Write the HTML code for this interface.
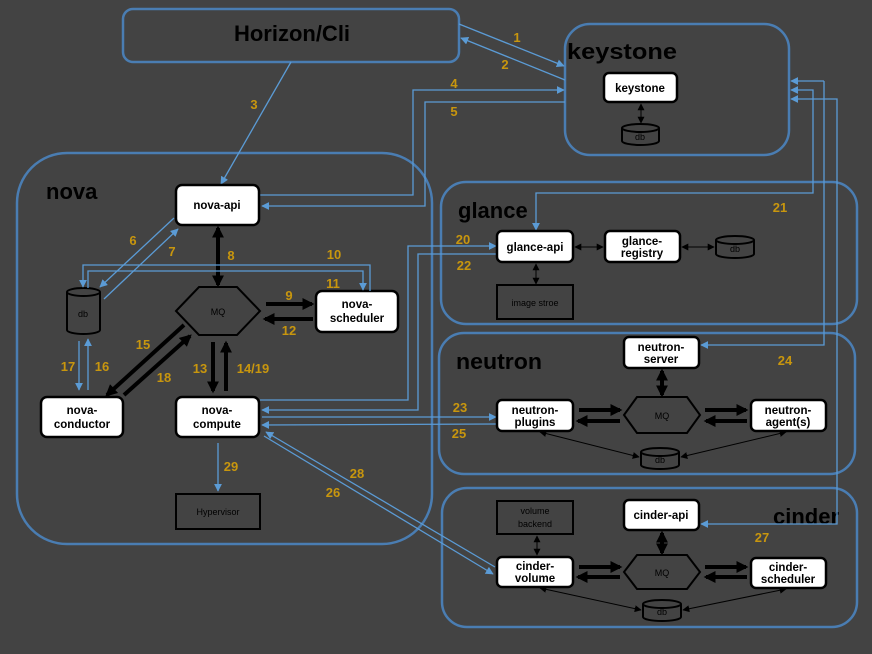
<!DOCTYPE html>
<html><head><meta charset="utf-8"><style>
html,body{margin:0;padding:0;background:#434343;}
svg{display:block;}
text{font-family:"Liberation Sans","DejaVu Sans",sans-serif;}
.t{font-size:11.5px;font-weight:bold;fill:#000;text-anchor:middle;}
.s{font-size:9px;fill:#000;text-anchor:middle;}
.n{font-size:13px;font-weight:bold;fill:#c8960e;text-anchor:middle;}
.h{font-size:22px;font-weight:bold;fill:#000;}
.c{fill:none;stroke:#4a7db2;stroke-width:2.5;}
.b{fill:none;stroke:#5b9bd5;stroke-width:1.3;}
.w{fill:#fff;stroke:#000;stroke-width:2.5;}
.k{fill:none;stroke:#000;stroke-width:1;}
.K{fill:none;stroke:#000;stroke-width:4;}
.dk{fill:#434343;stroke:#000;stroke-width:2;}
</style></head><body>
<svg width="872" height="654" viewBox="0 0 872 654" xmlns="http://www.w3.org/2000/svg">
<defs>
<marker id="ab" viewBox="0 0 10 10" refX="9" refY="5" markerWidth="8" markerHeight="8" orient="auto-start-reverse" markerUnits="userSpaceOnUse"><path d="M0,0L10,5L0,10z" fill="#5b9bd5"/></marker>
<marker id="ak" viewBox="0 0 10 10" refX="9" refY="5" markerWidth="7" markerHeight="7" orient="auto-start-reverse" markerUnits="userSpaceOnUse"><path d="M0,0L10,5L0,10z" fill="#000"/></marker>
<marker id="aK" viewBox="0 0 10 10" refX="8" refY="5" markerWidth="12" markerHeight="12" orient="auto-start-reverse" markerUnits="userSpaceOnUse"><path d="M0,0L10,5L0,10z" fill="#000"/></marker>
</defs>

<rect class="c" x="123" y="9" width="336" height="53" rx="10"/>
<text class="h" x="292" y="41" text-anchor="middle">Horizon/Cli</text>
<rect class="c" x="565" y="24" width="224" height="131" rx="25"/>
<text class="h" x="567" y="59" textLength="110" lengthAdjust="spacingAndGlyphs">keystone</text>
<rect class="c" x="17" y="153" width="415" height="391" rx="50"/>
<text class="h" x="46" y="199">nova</text>
<rect class="c" x="441" y="182" width="416" height="142" rx="25"/>
<text class="h" x="458" y="218">glance</text>
<rect class="c" x="439" y="333" width="416" height="141" rx="25"/>
<text class="h" x="456" y="369" textLength="86" lengthAdjust="spacingAndGlyphs">neutron</text>
<rect class="c" x="442" y="488" width="415" height="139" rx="25"/>
<text class="h" x="773" y="524">cinder</text>

<rect class="w" x="604" y="73" width="73" height="29" rx="5"/>
<text class="t" x="640" y="92">keystone</text>
<line class="k" x1="641" y1="104" x2="641" y2="123" marker-start="url(#ak)" marker-end="url(#ak)"/>
<g><path class="dk" d="M622,128 v13 a18.5,4 0 0 0 37,0 v-13"/><ellipse class="dk" cx="640.5" cy="128" rx="18.5" ry="4"/><text class="s" x="640" y="140">db</text></g>

<line class="b" x1="459" y1="24" x2="564" y2="66" marker-end="url(#ab)"/>
<line class="b" x1="565" y1="80" x2="461" y2="38" marker-end="url(#ab)"/>
<line class="b" x1="291" y1="62" x2="221" y2="184" marker-end="url(#ab)"/>
<polyline class="b" points="260,195 413,195 413,90 564,90" marker-end="url(#ab)"/>
<polyline class="b" points="565,102 425,102 425,206 262,206" marker-end="url(#ab)"/>
<text class="n" x="517" y="42">1</text>
<text class="n" x="505" y="69">2</text>
<text class="n" x="254" y="109">3</text>
<text class="n" x="454" y="88">4</text>
<text class="n" x="454" y="116">5</text>

<polyline class="b" points="824,81 824,345 701,345" marker-end="url(#ab)"/>
<line class="b" x1="824" y1="81" x2="791" y2="81" marker-end="url(#ab)"/>
<polyline class="b" points="791,90 813,90 813,193 536,193 536,230" marker-start="url(#ab)" marker-end="url(#ab)"/>
<polyline class="b" points="791,99 837,99 837,524 701,524" marker-start="url(#ab)" marker-end="url(#ab)"/>
<text class="n" x="780" y="212">21</text>
<text class="n" x="785" y="365">24</text>
<text class="n" x="762" y="542">27</text>

<rect class="w" x="176" y="185" width="83" height="40" rx="6"/>
<text class="t" x="217" y="209">nova-api</text>
<polygon class="dk" points="176,311 199,287 237,287 260,311 237,335 199,335"/>
<text class="s" x="218" y="315">MQ</text>
<rect class="w" x="316" y="291" width="82" height="41" rx="6"/>
<text class="t" x="357" y="308">nova-</text><text class="t" x="357" y="322">scheduler</text>
<g><path class="dk" d="M67,292 v38 a16.5,4 0 0 0 33,0 v-38"/><ellipse class="dk" cx="83.5" cy="292" rx="16.5" ry="4"/><text class="s" x="83" y="317">db</text></g>
<rect class="w" x="41" y="397" width="82" height="40" rx="6"/>
<text class="t" x="82" y="414">nova-</text><text class="t" x="82" y="428">conductor</text>
<rect class="w" x="176" y="397" width="83" height="40" rx="6"/>
<text class="t" x="217" y="414">nova-</text><text class="t" x="217" y="428">compute</text>
<rect class="dk" x="176" y="494" width="84" height="35"/>
<text class="s" x="218" y="515">Hypervisor</text>

<line class="b" x1="174" y1="218" x2="100" y2="287" marker-end="url(#ab)"/>
<line class="b" x1="104" y1="299" x2="178" y2="229" marker-end="url(#ab)"/>
<text class="n" x="133" y="245">6</text>
<text class="n" x="172" y="256">7</text>
<line class="K" x1="218" y1="228" x2="218" y2="285" marker-start="url(#aK)" marker-end="url(#aK)"/>
<text class="n" x="231" y="260">8</text>
<polyline class="b" points="370,291 370,265 83,265 83,287" marker-end="url(#ab)"/>
<polyline class="b" points="88,288 88,271 363,271 363,290" marker-end="url(#ab)"/>
<text class="n" x="334" y="259">10</text>
<text class="n" x="333" y="288">11</text>
<line class="K" x1="266" y1="304" x2="312" y2="304" marker-end="url(#aK)"/>
<line class="K" x1="313" y1="319" x2="265" y2="319" marker-end="url(#aK)"/>
<text class="n" x="289" y="300">9</text>
<text class="n" x="289" y="335">12</text>
<line class="K" x1="213" y1="342" x2="213" y2="391" marker-end="url(#aK)"/>
<line class="K" x1="226" y1="391" x2="226" y2="343" marker-end="url(#aK)"/>
<text class="n" x="200" y="373">13</text>
<text class="n" x="253" y="373">14/19</text>
<line class="K" x1="184" y1="325" x2="107" y2="395" marker-end="url(#aK)"/>
<line class="K" x1="124" y1="395" x2="190" y2="336" marker-end="url(#aK)"/>
<text class="n" x="143" y="349">15</text>
<text class="n" x="164" y="382">18</text>
<line class="b" x1="79" y1="341" x2="79" y2="390" marker-end="url(#ab)"/>
<line class="b" x1="88" y1="390" x2="88" y2="339" marker-end="url(#ab)"/>
<text class="n" x="68" y="371">17</text>
<text class="n" x="102" y="371">16</text>
<line class="b" x1="218" y1="443" x2="218" y2="491" marker-end="url(#ab)"/>
<text class="n" x="231" y="471">29</text>

<polyline class="b" points="260,400 408,400 408,246 496,246" marker-end="url(#ab)"/>
<polyline class="b" points="497,254 418,254 418,410 262,410" marker-end="url(#ab)"/>
<line class="b" x1="262" y1="417" x2="496" y2="417" marker-end="url(#ab)"/>
<line class="b" x1="497" y1="424" x2="262" y2="425" marker-end="url(#ab)"/>
<text class="n" x="463" y="244">20</text>
<text class="n" x="464" y="270">22</text>
<text class="n" x="460" y="412">23</text>
<text class="n" x="459" y="438">25</text>
<line class="b" x1="495" y1="567" x2="266" y2="432" marker-end="url(#ab)"/>
<line class="b" x1="264" y1="436" x2="493" y2="574" marker-end="url(#ab)"/>
<text class="n" x="357" y="478">28</text>
<text class="n" x="333" y="497">26</text>

<rect class="w" x="497" y="231" width="76" height="31" rx="5"/>
<text class="t" x="535" y="251">glance-api</text>
<rect class="w" x="605" y="231" width="75" height="31" rx="5"/>
<text class="t" x="642" y="245">glance-</text><text class="t" x="642" y="257">registry</text>
<g><path class="dk" d="M716,240 v14 a19,4 0 0 0 38,0 v-14"/><ellipse class="dk" cx="735" cy="240" rx="19" ry="4"/><text class="s" x="735" y="252">db</text></g>
<rect class="dk" x="497" y="285" width="76" height="34"/>
<text class="s" x="535" y="306">image stroe</text>
<line class="k" x1="575" y1="247" x2="603" y2="247" marker-start="url(#ak)" marker-end="url(#ak)"/>
<line class="k" x1="682" y1="247" x2="714" y2="247" marker-start="url(#ak)" marker-end="url(#ak)"/>
<line class="k" x1="536" y1="264" x2="536" y2="284" marker-start="url(#ak)" marker-end="url(#ak)"/>

<rect class="w" x="624" y="337" width="75" height="31" rx="5"/>
<text class="t" x="661" y="351">neutron-</text><text class="t" x="661" y="363">server</text>
<polygon class="dk" points="624,415 637,397 687,397 700,415 687,433 637,433"/>
<text class="s" x="662" y="419">MQ</text>
<rect class="w" x="497" y="400" width="76" height="31" rx="5"/>
<text class="t" x="535" y="414">neutron-</text><text class="t" x="535" y="426">plugins</text>
<rect class="w" x="751" y="400" width="75" height="31" rx="5"/>
<text class="t" x="788" y="414">neutron-</text><text class="t" x="788" y="426">agent(s)</text>
<g><path class="dk" d="M641,452 v13 a19,4 0 0 0 38,0 v-13"/><ellipse class="dk" cx="660" cy="452" rx="19" ry="4"/><text class="s" x="660" y="463">db</text></g>
<line class="K" x1="662" y1="371" x2="662" y2="395" marker-start="url(#aK)" marker-end="url(#aK)"/>
<line class="K" x1="579" y1="410" x2="620" y2="410" marker-end="url(#aK)"/>
<line class="K" x1="620" y1="421" x2="578" y2="421" marker-end="url(#aK)"/>
<line class="K" x1="705" y1="410" x2="746" y2="410" marker-end="url(#aK)"/>
<line class="K" x1="747" y1="421" x2="706" y2="421" marker-end="url(#aK)"/>
<line class="k" x1="540" y1="432" x2="639" y2="457" marker-start="url(#ak)" marker-end="url(#ak)"/>
<line class="k" x1="786" y1="432" x2="681" y2="457" marker-start="url(#ak)" marker-end="url(#ak)"/>

<rect class="dk" x="497" y="501" width="76" height="33"/>
<text class="s" x="535" y="514">volume</text><text class="s" x="535" y="527">backend</text>
<rect class="w" x="624" y="500" width="75" height="30" rx="5"/>
<text class="t" x="661" y="519">cinder-api</text>
<polygon class="dk" points="624,572 637,555 687,555 700,572 687,589 637,589"/>
<text class="s" x="662" y="576">MQ</text>
<rect class="w" x="497" y="557" width="76" height="30" rx="5"/>
<text class="t" x="535" y="570">cinder-</text><text class="t" x="535" y="582">volume</text>
<rect class="w" x="751" y="558" width="75" height="30" rx="5"/>
<text class="t" x="788" y="571">cinder-</text><text class="t" x="788" y="583">scheduler</text>
<g><path class="dk" d="M643,604 v13 a19,4 0 0 0 38,0 v-13"/><ellipse class="dk" cx="662" cy="604" rx="19" ry="4"/><text class="s" x="662" y="615">db</text></g>
<line class="k" x1="537" y1="536" x2="537" y2="555" marker-start="url(#ak)" marker-end="url(#ak)"/>
<line class="K" x1="662" y1="533" x2="662" y2="553" marker-start="url(#aK)" marker-end="url(#aK)"/>
<line class="K" x1="579" y1="567" x2="620" y2="567" marker-end="url(#aK)"/>
<line class="K" x1="620" y1="577" x2="578" y2="577" marker-end="url(#aK)"/>
<line class="K" x1="705" y1="567" x2="746" y2="567" marker-end="url(#aK)"/>
<line class="K" x1="747" y1="577" x2="706" y2="577" marker-end="url(#aK)"/>
<line class="k" x1="540" y1="588" x2="641" y2="610" marker-start="url(#ak)" marker-end="url(#ak)"/>
<line class="k" x1="786" y1="589" x2="683" y2="610" marker-start="url(#ak)" marker-end="url(#ak)"/>
</svg>
</body></html>
